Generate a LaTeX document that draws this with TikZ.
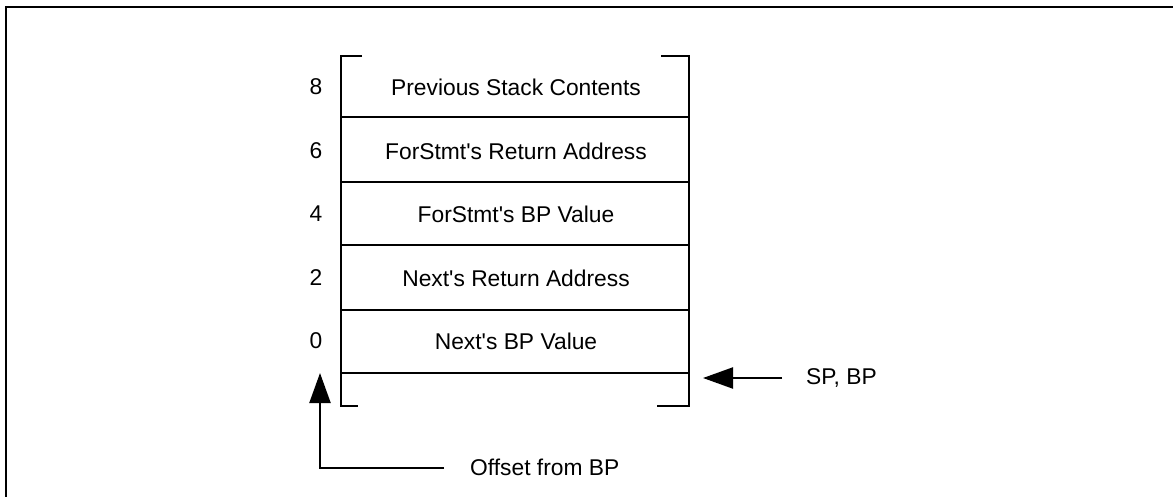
\documentclass[tikz,border=0pt]{standalone}
\usepackage{fontspec}
\setmainfont{Liberation Sans}
\usetikzlibrary{arrows.meta}
\newcommand{\apo}{\textquotesingle}
\begin{document}
\begin{tikzpicture}[x=1pt,y=-1pt,
  ln/.style={line width=2.2pt},
  lbl/.style={font=\fontsize{22.8}{27}\selectfont, inner sep=0pt},
  arr/.style={ln,-{Triangle[length=30pt,width=21pt]}},
  cell/.style={lbl, anchor=center}]
\useasboundingbox (0,0) rectangle (1173,497);
% frame
\draw[line width=2.2pt] (6,497) -- (6,7) -- (1173,7);
% stack box
\draw[ln] (362,56) -- (341,56) -- (341,406) -- (358,406);
\draw[ln] (661,56) -- (689,56) -- (689,406) -- (657,406);
\foreach \y in {117,182,245,310,373} \draw[ln] (341,\y) -- (689,\y);
% cell texts
\node[cell] (c8) at (516,87) {Previous Stack Contents};
\node[cell] (c6) at (516,151) {ForStmt\apo s Return Address};
\node[cell] (c4) at (516,214) {ForStmt\apo s BP Value};
\node[cell] (c2) at (516,278) {Next\apo s Return Address};
\node[cell] (c0) at (516,341) {Next\apo s BP Value};
% offsets
\node[lbl] (o8) at (316,87) {8};
\node[lbl] (o6) at (316,151) {6};
\node[lbl] (o4) at (316,214) {4};
\node[lbl] (o2) at (316,278) {2};
\node[lbl] (o0) at (316,341) {0};
% SP, BP
\node[lbl, anchor=west] (sp) at (806,378) {SP, BP};
\coordinate (spend) at (782,378);
\coordinate (sptip) at (703,378);
\draw[arr] (spend) -- (sptip);
% offset from BP
\node[lbl, anchor=west] (off) at (470,467) {Offset from BP};
\coordinate (offend) at (444,468);
\coordinate (offtip) at (320,373);
\draw[arr] (offend) -- (320,468) -- (offtip);
\end{tikzpicture}
\end{document}
